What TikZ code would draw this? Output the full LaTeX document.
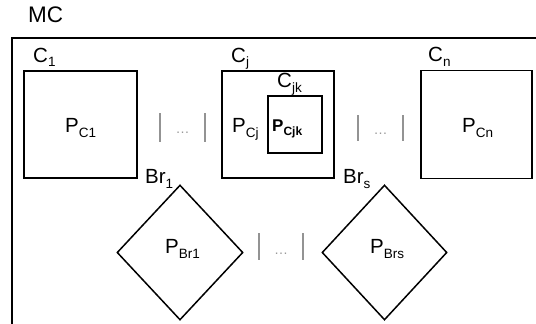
\documentclass[tikz,border=0pt]{standalone}
\usepackage{fontspec}
\setmainfont{Liberation Sans}
\usetikzlibrary{shapes.geometric}
\newcommand\sbx[1]{\raisebox{-5pt}{\fontsize{13.5}{14}\selectfont #1}}
\newcommand\sbsmall[1]{\raisebox{-4pt}{\fontsize{12}{13}\selectfont #1}}
\begin{document}
\begin{tikzpicture}[x=1pt,y=-1pt,
  lbl/.style={font=\fontsize{20.5}{22}\selectfont, inner sep=0pt, anchor=base west},
  cbox/.style={draw, line width=1.5pt, inner sep=0pt},
  dbox/.style={draw, shape=diamond, line width=1.5pt, inner sep=0pt},
  sepbar/.style={draw=gray!85, line width=1.2pt},
  dots/.style={text=gray!80, font=\fontsize{14}{16}\selectfont, inner sep=0pt}]
\useasboundingbox (0,0) rectangle (536,324);
% outer MC frame (cut off at right and bottom)
\coordinate (mcbl) at (12,330);
\coordinate (mctl) at (12,38);
\coordinate (mctr) at (540,38);
\draw[line width=1.5pt] (mcbl) -- (mctl) -- (mctr);
\node[lbl, font=\fontsize{22.5}{24}\selectfont] (mc) at (28,23) {MC};
% component boxes
\node[cbox, minimum width=113pt, minimum height=107pt] (c1) at (80.5,124.5) {};
\node[cbox, minimum width=112pt, minimum height=107pt] (cj) at (278,124.5) {};
\node[cbox, minimum width=54pt, minimum height=57pt] (cjk) at (295,124.5) {};
\node[cbox, minimum width=111pt, minimum height=108pt] (cn) at (476.5,124.5) {};
% contents
\node[lbl] (pc1) at (65,132) {P\sbx{C1}};
\node[lbl] (pcj) at (232,132) {P\sbx{Cj}};
\node[lbl, font=\fontsize{17}{19}\selectfont\bfseries] (pcjk) at (272,131.5) {P\sbsmall{Cjk}};
\node[lbl] (pcn) at (462,132) {P\sbx{Cn}};
% component labels
\node[lbl] (lc1) at (33,62) {C\sbx{1}};
\node[lbl] (lcj) at (231,62) {C\sbx{j}};
\node[lbl] (lcjk) at (277,87) {C\sbx{jk}};
\node[lbl] (lcn) at (428,61) {C\sbx{n}};
% bridges
\node[dbox, minimum width=126pt, minimum height=135pt] (b1) at (180,252.5) {};
\node[dbox, minimum width=125pt, minimum height=135pt] (bs) at (384.5,252.5) {};
\node[lbl] (pb1) at (165,253) {P\sbx{Br1}};
\node[lbl] (pbs) at (370,253) {P\sbx{Brs}};
\node[lbl] (lb1) at (145,183) {Br\sbx{1}};
\node[lbl] (lbs) at (343,183) {Br\sbx{s}};
% ellipsis separators
\node[dots] (d1) at (182.5,133) {\dots};
\node[dots] (d2) at (380.5,134) {\dots};
\node[dots] (d3) at (281,254) {\dots};
\draw[sepbar] ([shift={(-22.5,-20)}]d1.center) -- ([shift={(-22.5,9)}]d1.center);
\draw[sepbar] ([shift={(22.5,-20)}]d1.center) -- ([shift={(22.5,9)}]d1.center);
\draw[sepbar] ([shift={(-22.5,-19)}]d2.center) -- ([shift={(-22.5,7)}]d2.center);
\draw[sepbar] ([shift={(22.5,-19)}]d2.center) -- ([shift={(22.5,7)}]d2.center);
\draw[sepbar] ([shift={(-22,-21)}]d3.center) -- ([shift={(-22,6)}]d3.center);
\draw[sepbar] ([shift={(22,-21)}]d3.center) -- ([shift={(22,6)}]d3.center);
\end{tikzpicture}
\end{document}
